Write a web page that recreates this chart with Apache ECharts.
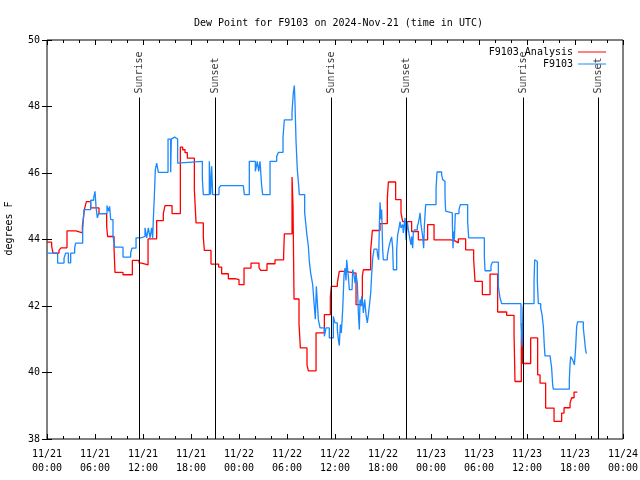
<!DOCTYPE html>
<html><head><meta charset="utf-8">
<script src="https://cdn.jsdelivr.net/npm/echarts@6/dist/echarts.min.js"></script>
<style>html,body{margin:0;padding:0;background:#fff}#c{width:640px;height:480px}</style>
</head><body><div id="c"></div>
<script>
// hours since 2024-11-21 00:00 UTC
const analysisHours = [0,0.58,0.67,0.75,1.5,1.75,2.5,3.63,4.42,4.67,4.92,5.46,6.5,7.46,7.58,8.38,8.5,9.5,10.67,11.5,11.83,12.63,13.71,14.54,14.75,15.63,16.67,16.96,17.25,17.54,18.42,18.63,19.54,19.67,20.5,21.46,21.83,22.67,23.5,24.0,24.63,25.5,26.5,26.71,27.5,28.5,29.58,29.67,30.63,30.75,30.88,31.5,31.67,32.5,32.67,33.63,34.67,35.42,35.54,36.29,36.54,37.25,38.63,39.42,39.54,40.46,40.67,41.63,42.54,42.67,43.58,44.25,44.46,45.58,46.42,47.58,48.38,50.5,51.0,51.42,52.33,53.33,53.5,54.42,55.38,56.33,57.46,58.38,58.5,59.29,59.38,59.46,60.46,61.33,61.63,62.33,63.38,64.33,64.63,65.38,65.58,65.88,66.29];
const analysisValues = [43.92,43.81,43.69,43.59,43.67,43.75,44.26,44.20,44.39,44.90,45.14,44.95,44.78,44.39,44.09,43.73,43.01,42.94,43.37,43.29,43.24,44.02,44.57,44.78,45.02,44.78,46.78,46.70,46.61,46.45,45.50,44.50,44.08,43.67,43.26,43.17,42.97,42.82,42.79,42.64,43.14,43.29,43.15,43.07,43.27,43.39,43.54,44.17,45.88,45.0,42.21,41.47,40.74,40.23,40.05,41.19,41.74,42.27,42.59,42.69,43.04,42.99,42.04,42.89,43.09,43.67,44.27,44.48,45.23,45.73,45.20,44.80,44.54,44.24,43.99,44.45,43.99,43.96,43.90,44.02,43.69,43.41,42.74,42.34,42.96,41.82,41.72,41.19,39.73,41.0,41.49,40.27,41.04,39.93,39.68,38.93,38.53,38.78,38.94,39.08,39.24,39.41,39.41];

const obsHours = [0,1.33,2.13,2.33,2.67,2.96,3.46,3.58,4.46,4.63,5.46,5.83,6.0,6.13,6.29,6.46,7.5,7.71,7.83,7.96,8.25,8.46,9.5,10.46,10.63,11.13,11.75,12.25,12.46,12.67,12.88,13.08,13.21,13.29,13.42,13.54,13.71,13.92,15.13,15.46,15.54,15.67,15.96,16.33,16.58,19.42,19.54,20.29,20.46,20.58,20.71,21.5,21.71,24.54,24.67,25.29,26.04,26.29,26.46,26.63,26.83,26.96,27.88,28.71,28.92,29.5,29.67,30.63,30.79,30.92,31.0,31.13,31.29,31.46,31.54,32.21,32.46,32.67,32.79,32.96,33.21,33.38,33.54,33.67,33.92,34.13,34.67,34.88,35.29,35.79,36.0,36.29,36.42,36.54,36.67,36.79,36.96,37.13,37.25,37.38,37.46,37.58,37.67,37.79,38.13,38.21,38.38,38.5,38.63,38.79,38.92,39.04,39.13,39.25,39.33,39.46,39.54,39.71,39.88,40.04,40.17,40.29,40.46,40.58,40.71,40.88,41.25,41.33,41.46,41.54,41.63,41.75,41.83,41.96,42.04,42.54,42.67,42.79,42.96,43.08,43.21,43.29,43.71,43.83,43.96,44.13,44.25,44.46,44.54,44.63,44.75,44.88,45.04,45.17,45.38,45.5,45.58,45.71,45.79,45.92,46.29,46.42,46.54,46.63,46.75,46.96,47.08,47.17,47.33,48.63,48.75,49.33,49.46,49.63,49.75,49.83,49.96,50.67,50.75,50.83,50.92,51.04,51.5,51.67,52.58,52.71,54.67,54.75,55.5,55.67,56.42,56.63,56.83,59.25,59.38,59.5,59.58,60.88,60.96,61.13,61.29,61.42,61.71,61.88,62.04,62.17,62.25,62.88,62.96,63.08,63.21,63.29,65.29,65.38,65.46,65.71,65.92,66.08,66.21,66.33,67.04,67.17,67.29,67.42,67.46];
const obsValues = [43.59,43.29,43.44,43.59,43.30,43.59,43.74,43.89,44.29,44.90,45.18,45.25,45.45,44.98,44.65,44.78,45.02,44.85,45.0,44.6,44.11,43.77,43.47,43.60,43.74,44.05,44.09,44.35,44.05,44.35,44.05,44.35,44.05,44.6,45.3,46.1,46.30,46.02,47.02,46.02,47.02,47.08,47.02,46.3,46.35,45.82,45.35,46.35,45.35,46.2,45.35,45.55,45.62,45.62,45.35,46.35,46.05,46.35,46.05,46.35,45.62,45.35,46.35,46.50,46.62,47.08,47.60,47.85,48.41,48.63,48.1,46.95,46.10,45.62,45.35,44.80,44.20,43.79,43.34,42.99,42.64,42.09,41.6,42.59,41.59,41.34,41.09,41.34,41.04,41.69,41.49,41.29,40.99,40.81,41.44,41.19,41.89,42.94,43.14,42.77,43.39,43.44,42.89,42.49,42.44,43.09,42.94,42.69,42.94,42.69,41.79,41.29,42.19,41.99,42.29,42.09,41.79,42.19,41.74,41.49,41.74,41.99,42.39,42.94,43.44,43.71,43.69,43.51,43.39,44.39,45.12,44.6,44.9,43.69,43.39,43.49,43.69,43.84,43.99,44.08,43.74,43.09,43.69,44.14,44.29,44.54,44.35,44.45,44.2,44.4,44.65,43.99,44.54,44.29,43.99,43.84,44.09,43.74,44.2,44.29,44.4,44.5,44.65,44.80,44.45,44.09,43.74,44.4,45.05,45.52,46.03,45.95,45.80,45.75,45.30,44.85,44.80,44.50,43.74,44.24,43.99,44.78,44.9,45.05,44.54,44.05,43.49,43.06,43.21,43.32,42.59,42.24,42.07,41.44,40.78,41.94,42.07,42.74,43.39,43.34,42.74,42.07,41.94,41.74,41.39,40.78,40.50,40.54,40.44,40.14,39.63,39.50,39.78,40.23,40.48,40.38,40.23,40.74,41.39,41.52,41.34,41.04,40.74,40.57,40.57];

const sunHours = [11.53, 21.08, 35.54, 44.92, 59.54, 68.92];
const sunLabels = ['Sunrise', 'Sunset', 'Sunrise', 'Sunset', 'Sunrise', 'Sunset'];

const xTickLabels = ['11/21\n00:00','11/21\n06:00','11/21\n12:00','11/21\n18:00','11/22\n00:00','11/22\n06:00','11/22\n12:00','11/22\n18:00','11/23\n00:00','11/23\n06:00','11/23\n12:00','11/23\n18:00','11/24\n00:00'];
const yTicks = [38, 40, 42, 44, 46, 48, 50];

const FONT = '"DejaVu Sans Mono", monospace';
const zip = (a, b) => a.map((v, i) => [v, b[i]]);
const sunTop = 48.27;

const chart = echarts.init(document.getElementById('c'), null, {renderer: 'canvas'});
const tickCommon = {show: true, inside: true, length: 5, lineStyle: {color: '#000', width: 1}};
const minorCommon = {show: true, splitNumber: 3, length: 3, lineStyle: {color: '#000', width: 1}};
chart.setOption({
  animation: false,
  backgroundColor: '#fff',
  textStyle: {fontFamily: FONT},
  title: {
    text: 'Dew Point for F9103 on 2024-Nov-21 (time in UTC)',
    left: 189, top: 13,
    textStyle: {fontFamily: FONT, fontSize: 10, fontWeight: 'normal', color: '#000'}
  },
  legend: {
    data: ['F9103 Analysis', 'F9103'],
    orient: 'vertical', align: 'right',
    right: 29, top: 42, itemGap: 2,
    icon: 'rect', itemWidth: 28, itemHeight: 1,
    textStyle: {fontFamily: FONT, fontSize: 10, color: '#000'}
  },
  grid: {left: 47, top: 40, width: 576, height: 399, containLabel: false, outerBoundsMode: 'none',
    show: true, borderColor: '#000', borderWidth: 1, backgroundColor: 'transparent'},
  xAxis: [{
    type: 'value', min: 0, max: 72, interval: 6, position: 'bottom',
    axisLine: {show: false}, splitLine: {show: false},
    axisTick: tickCommon, minorTick: minorCommon,
    axisLabel: {margin: 8, fontFamily: FONT, fontSize: 10, color: '#000', lineHeight: 14,
      formatter: v => xTickLabels[Math.round(v / 6)]}
  }, {
    type: 'value', min: 0, max: 72, interval: 6, position: 'top',
    axisLine: {show: false}, splitLine: {show: false},
    axisTick: tickCommon, minorTick: minorCommon, axisLabel: {show: false}
  }],
  yAxis: [{
    type: 'value', min: 38, max: 50, interval: 2, position: 'left',
    name: 'degrees F', nameLocation: 'middle', nameGap: 33, nameRotate: 90,
    nameTextStyle: {fontFamily: FONT, fontSize: 10, color: '#000', padding: [0, 0, 0, 22]},
    axisLine: {show: false}, splitLine: {show: false},
    axisTick: tickCommon,
    axisLabel: {margin: 7, fontFamily: FONT, fontSize: 10, color: '#000',
      formatter: v => (yTicks.indexOf(v) >= 0 ? String(v) : '')}
  }, {
    type: 'value', min: 38, max: 50, interval: 2, position: 'right',
    axisLine: {show: false}, splitLine: {show: false},
    axisTick: tickCommon, axisLabel: {show: false}
  }],
  series: [{
    name: 'sun', type: 'scatter', symbolSize: 0, silent: true,
    data: sunHours.map((h, i) => [h, sunTop, sunLabels[i]]),
    label: {show: true, position: 'top', distance: 4, rotate: 90, align: 'left', verticalAlign: 'middle',
      fontFamily: FONT, fontSize: 10, color: '#000', formatter: p => p.data[2]},
    markLine: {
      silent: true, symbol: 'none', animation: false,
      lineStyle: {color: '#000', width: 1, type: 'solid'},
      label: {show: false},
      data: sunHours.map(h => [{coord: [h, 38]}, {coord: [h, sunTop]}])
    }
  }, {
    name: 'F9103 Analysis', type: 'line', step: 'end', showSymbol: false,
    color: '#ff0000', lineStyle: {color: '#ff0000', width: 1.3},
    data: zip(analysisHours, analysisValues)
  }, {
    name: 'F9103', type: 'line', step: 'end', showSymbol: false,
    color: '#1a88ff', lineStyle: {color: '#1a88ff', width: 1.3},
    data: zip(obsHours, obsValues)
  }]
});
</script></body></html>
